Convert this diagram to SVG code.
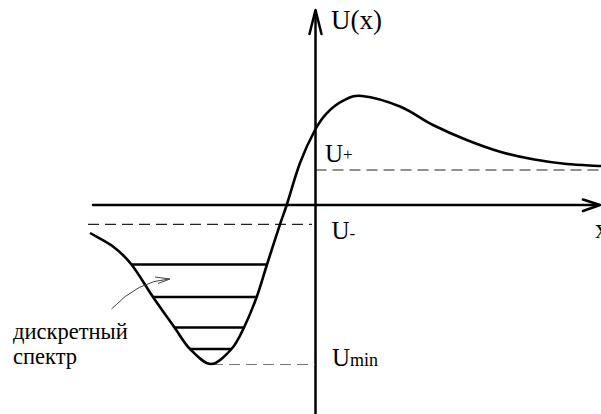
<svg xmlns="http://www.w3.org/2000/svg" width="601" height="414" viewBox="0 0 601 414">
<style>
.ax{fill:none;stroke:#000;stroke-width:2.5;stroke-linecap:round;stroke-linejoin:round}
.cv{fill:none;stroke:#000;stroke-width:2.6}
.lv{stroke:#000;stroke-width:2.5}
.ds{fill:none;stroke:#222;stroke-width:1.2;stroke-dasharray:11 6}
.t{font-family:"Liberation Serif","Times New Roman",serif;fill:#000}
</style>
<rect width="601" height="414" fill="#fff"/>
<g id="axes">
<line class="ax" x1="93" y1="205" x2="599" y2="205"/>
<polyline class="ax" points="583,199.5 600,205 583,211"/>
<line class="ax" x1="315.5" y1="414" x2="315.5" y2="11"/>
<polyline class="ax" points="309.5,34 315.5,10 321.5,34"/>
</g>
<g id="dashes">
<line class="ds" x1="315.5" y1="170" x2="601" y2="170"/>
<line class="ds" x1="88" y1="224.3" x2="312" y2="224.3"/>
<line class="ds" x1="212" y1="364.5" x2="315" y2="364.5" style="stroke:#777"/>
</g>
<g id="curve">
<path class="cv" d="M90,233 C97.67,237.5 106.08,241.25 113,246.5 C119.92,251.75 124.83,256.08 131.5,264.5 C138.17,272.92 145.83,286.5 153,297 C160.17,307.5 168.33,318.83 174.5,327.5 C180.67,336.17 183.92,342.92 190,349 C196.08,355.08 204.08,364 211,364 C217.92,364 226,355.08 231.5,349 C237,342.92 239.8,336.17 244,327.5 C248.2,318.83 252.87,307.5 256.7,297 C260.53,286.5 263.12,276.62 267,264.5 C270.88,252.38 276.72,234.22 280,224.3 C283.28,214.38 283.5,215 286.7,205 C290.03,194.78 295.28,175.5 300,163 C304.72,150.5 310.55,138.28 315,130 C319.45,121.72 322,118.18 326.7,113.3 C331.42,108.42 337.42,103.58 343.3,100.7 C349.18,97.82 352.55,95.03 362,96 C371.45,96.97 388.170,101.67 400,106.5 C411.83,111.33 421.88,119.42 433,125 C444.12,130.58 455.53,135.55 466.7,140 C477.87,144.45 488.95,148.48 500,151.7 C511.05,154.92 521.88,157.25 533,159.3 C544.12,161.35 555.37,162.88 566.7,164 C578.03,165.12 589.57,165.33 601,166"/>
</g>
<g id="levels">
<line class="lv" x1="131" y1="264.5" x2="267.5" y2="264.5"/>
<line class="lv" x1="152.5" y1="297" x2="257" y2="297"/>
<line class="lv" x1="174" y1="327.5" x2="244.5" y2="327.5"/>
<line class="lv" x1="189.5" y1="349" x2="232" y2="349"/>
</g>
<g id="pointer">
<path d="M111.5,309 Q138,281 169,279" fill="none" stroke="#444" stroke-width="1"/>
<polyline points="155,277 170,279 158,283.5" fill="none" stroke="#444" stroke-width="1"/>
</g>
<g id="labels">
<text class="t" x="331" y="29" font-size="27">U(x)</text>
<text class="t" x="325" y="162" font-size="25">U<tspan font-size="17" dy="-2">+</tspan></text>
<text class="t" x="331.5" y="239" font-size="25">U<tspan font-size="17">-</tspan></text>
<text class="t" x="332" y="366" font-size="25">U<tspan font-size="18">min</tspan></text>
<text class="t" x="595" y="238" font-size="27">x</text>
<text class="t" x="13" y="339" font-size="22.5">дискретный</text>
<text class="t" x="13" y="364" font-size="22.5">спектр</text>
</g>
</svg>
